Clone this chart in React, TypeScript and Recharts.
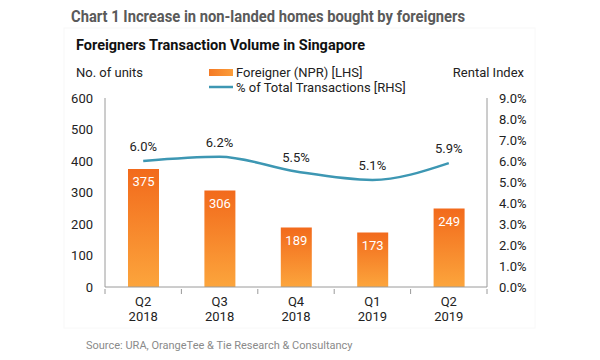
import React from 'react';
import {
  ComposedChart,
  Bar,
  Line,
  XAxis,
  YAxis,
  LabelList,
} from 'recharts';

const quarters = ['Q2|2018', 'Q3|2018', 'Q4|2018', 'Q1|2019', 'Q2|2019'];
const foreignerUnits = [375, 306, 189, 173, 249];
const sharePct = [6.0, 6.2, 5.5, 5.1, 5.9];
const leftTicks = [0, 100, 200, 300, 400, 500, 600];
const rightTicks = [0, 1, 2, 3, 4, 5, 6, 7, 8, 9];

const rows = quarters.map((q, i) => ({ q, units: foreignerUnits[i], pct: sharePct[i] }));

const FONT = 'Roboto, "Noto Sans", sans-serif';
const AXIS = '#9a9a9a';
const TEAL = '#3d97b3';
const PLOT_LEFT = 105;
const PLOT_RIGHT = 487;
const STEP = (PLOT_RIGHT - PLOT_LEFT) / quarters.length;

// two-line quarter label, with the tick mark drawn on the category boundary
const QuarterTick = ({ x, y, payload, index }: any) => {
  const [top, bottom] = String(payload.value).split('|');
  return (
    <g>
      <line x1={x - STEP / 2} x2={x - STEP / 2} y1={y} y2={y + 5} stroke={AXIS} />
      {index === quarters.length - 1 && (
        <line x1={x + STEP / 2} x2={x + STEP / 2} y1={y} y2={y + 5} stroke={AXIS} />
      )}
      <text x={x} y={y + 17} textAnchor="middle" fontSize={13} fill="#222" fontFamily={FONT}>
        {top}
      </text>
      <text x={x} y={y + 32} textAnchor="middle" fontSize={13} fill="#222" fontFamily={FONT}>
        {bottom}
      </text>
    </g>
  );
};

export default function App() {
  return (
    <div style={{ position: 'absolute', left: 0, top: 0, width: 600, height: 360, background: '#fff' }}>
      <svg width={600} height={360} style={{ position: 'absolute', left: 0, top: 0 }}>
        <defs>
          <linearGradient id="legendOrange" x1="0" y1="0" x2="1" y2="0">
            <stop offset="0%" stopColor="#f47a25" />
            <stop offset="100%" stopColor="#fb9d3a" />
          </linearGradient>
        </defs>
        <rect x={64} y={28} width={471} height={300} fill="#fff" stroke="#f8f8f8" />
        <text x={71} y={22} fontSize={16} fontWeight={700} fill="#5a5a5a" fontFamily={FONT}
          textLength={394} lengthAdjust="spacingAndGlyphs">
          Chart 1 Increase in non-landed homes bought by foreigners
        </text>
        <text x={76} y={50} fontSize={14.5} fontWeight={700} fill="#111" fontFamily={FONT}
          textLength={289} lengthAdjust="spacingAndGlyphs">
          Foreigners Transaction Volume in Singapore
        </text>
        <text x={76} y={77} fontSize={13} fill="#222" fontFamily={FONT}>No. of units</text>
        <text x={524} y={77} fontSize={13} fill="#222" fontFamily={FONT} textAnchor="end">Rental Index</text>
        <rect x={209} y={69} width={24} height={7} fill="url(#legendOrange)" />
        <text x={236} y={77} fontSize={13} fill="#222" fontFamily={FONT}>Foreigner (NPR) [LHS]</text>
        <line x1={209} x2={233} y1={87} y2={87} stroke={TEAL} strokeWidth={2.5} />
        <text x={236} y={92} fontSize={13} fill="#222" fontFamily={FONT}>% of Total Transactions [RHS]</text>
        <text x={86} y={349} fontSize={11} fill="#8a8a8a" fontFamily={FONT}>
          Source: URA, OrangeTee &amp; Tie Research &amp; Consultancy
        </text>
      </svg>
      <div style={{ position: 'absolute', left: 0, top: 0 }}>
        <ComposedChart
          width={600}
          height={360}
          data={rows}
          margin={{ top: 98, right: 0, bottom: 0, left: 0 }}
          barCategoryGap="59%"
        >
          <defs>
            <linearGradient id="barOrange" x1="0" y1="0" x2="0" y2="1">
              <stop offset="0%" stopColor="#f26a1c" />
              <stop offset="100%" stopColor="#fca53c" />
            </linearGradient>
          </defs>
          <XAxis
            dataKey="q"
            height={73}
            stroke={AXIS}
            tickLine={false}
            tickSize={0}
            interval={0}
            tick={<QuarterTick />}
          />
          <YAxis
            yAxisId="left"
            width={PLOT_LEFT}
            domain={[0, 600]}
            ticks={leftTicks}
            stroke={AXIS}
            tickLine={false}
            tickSize={0}
            tickMargin={12}
            tick={{ fontSize: 13, fill: '#222', fontFamily: FONT }}
          />
          <YAxis
            yAxisId="right"
            orientation="right"
            width={600 - PLOT_RIGHT}
            domain={[0, 9]}
            ticks={rightTicks}
            stroke={AXIS}
            tickLine={false}
            tickSize={0}
            tickMargin={12}
            tickFormatter={(v: number) => `${v.toFixed(1)}%`}
            tick={{ fontSize: 13, fill: '#222', fontFamily: FONT, textAnchor: 'start' }}
          />
          <Bar yAxisId="left" dataKey="units" fill="url(#barOrange)" barSize={31} isAnimationActive={false}>
            <LabelList dataKey="units" position="insideTop" offset={8} fill="#fff" fontSize={13} fontFamily={FONT} />
          </Bar>
          <Line
            yAxisId="right"
            dataKey="pct"
            type="monotone"
            stroke={TEAL}
            strokeWidth={2.5}
            dot={false}
            isAnimationActive={false}
          >
            <LabelList
              dataKey="pct"
              position="top"
              offset={10}
              fill="#222"
              fontSize={13}
              fontFamily={FONT}
              formatter={(v: any) => `${Number(v).toFixed(1)}%`}
            />
          </Line>
        </ComposedChart>
      </div>
    </div>
  );
}
